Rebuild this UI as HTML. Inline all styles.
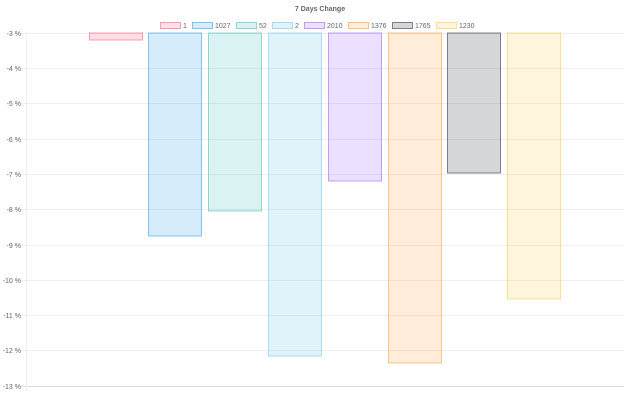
<!DOCTYPE html><html><head><style>body{margin:0;background:#fff}svg rect{stroke-opacity:0.6}</style></head><body>
<svg width="640" height="400" xmlns="http://www.w3.org/2000/svg" font-family="Liberation Sans, sans-serif">
<text x="320" y="11" text-anchor="middle" font-size="7" font-weight="bold" fill="#666">7 Days Change</text>
<g font-size="7" fill="#666">
<rect x="160.5" y="22.5" width="20" height="6" fill="rgba(255,99,132,0.2)" stroke="rgb(255,99,132)"/><text x="183" y="28">1</text>
<rect x="192.5" y="22.5" width="20" height="6" fill="rgba(54,162,235,0.2)" stroke="rgb(54,162,235)"/><text x="215" y="28">1027</text>
<rect x="236.5" y="22.5" width="20" height="6" fill="rgba(75,192,192,0.2)" stroke="rgb(75,192,192)"/><text x="259" y="28">52</text>
<rect x="272.5" y="22.5" width="20" height="6" fill="rgba(100,190,230,0.2)" stroke="rgb(120,200,235)"/><text x="295" y="28">2</text>
<rect x="304.5" y="22.5" width="20" height="6" fill="rgba(153,102,255,0.2)" stroke="rgb(153,102,255)"/><text x="327" y="28">2010</text>
<rect x="348.5" y="22.5" width="20" height="6" fill="rgba(255,159,64,0.2)" stroke="rgb(255,159,64)"/><text x="371" y="28">1376</text>
<rect x="392.5" y="22.5" width="20" height="6" fill="rgba(40,50,60,0.2)" stroke="rgb(50,55,65)"/><text x="415" y="28">1765</text>
<rect x="436.5" y="22.5" width="20" height="6" fill="rgba(255,205,86,0.2)" stroke="rgb(255,205,86)"/><text x="459" y="28">1230</text>
</g>
<g stroke="#efefef" stroke-width="1">
<line x1="21" x2="624" y1="33.5" y2="33.5"/><line x1="21" x2="624" y1="68.5" y2="68.5"/><line x1="21" x2="624" y1="103.5" y2="103.5"/><line x1="21" x2="624" y1="139.5" y2="139.5"/><line x1="21" x2="624" y1="174.5" y2="174.5"/><line x1="21" x2="624" y1="209.5" y2="209.5"/><line x1="21" x2="624" y1="245.5" y2="245.5"/><line x1="21" x2="624" y1="280.5" y2="280.5"/><line x1="21" x2="624" y1="315.5" y2="315.5"/><line x1="21" x2="624" y1="350.5" y2="350.5"/><line x1="21" x2="624" y1="386.5" y2="386.5" stroke="#ddd"/>
<line x1="26.5" x2="26.5" y1="33" y2="390"/>
</g>
<g font-size="7" fill="#666" text-anchor="end">
<text x="21" y="36">-3 %</text><text x="21" y="71">-4 %</text><text x="21" y="106">-5 %</text><text x="21" y="142">-6 %</text><text x="21" y="177">-7 %</text><text x="21" y="212">-8 %</text><text x="21" y="248">-9 %</text><text x="21" y="283">-10 %</text><text x="21" y="318">-11 %</text><text x="21" y="353">-12 %</text><text x="21" y="389">-13 %</text>
</g>
<rect x="89.5" y="33" width="53" height="7" fill="rgba(255,99,132,0.2)" stroke="rgb(255,99,132)"/>
<rect x="148.5" y="33" width="53" height="203" fill="rgba(54,162,235,0.2)" stroke="rgb(54,162,235)"/>
<rect x="208.5" y="33" width="53" height="178" fill="rgba(75,192,192,0.2)" stroke="rgb(75,192,192)"/>
<rect x="268.5" y="33" width="53" height="323" fill="rgba(100,190,230,0.2)" stroke="rgb(120,200,235)"/>
<rect x="328.5" y="33" width="53" height="148" fill="rgba(153,102,255,0.2)" stroke="rgb(153,102,255)"/>
<rect x="388.5" y="33" width="53" height="330" fill="rgba(255,159,64,0.2)" stroke="rgb(255,159,64)"/>
<rect x="447.5" y="33" width="53" height="140" fill="rgba(40,50,60,0.2)" stroke="rgb(50,55,65)"/>
<rect x="507.5" y="33" width="53" height="266" fill="rgba(255,205,86,0.2)" stroke="rgb(255,205,86)"/>
</svg>
</body></html>
